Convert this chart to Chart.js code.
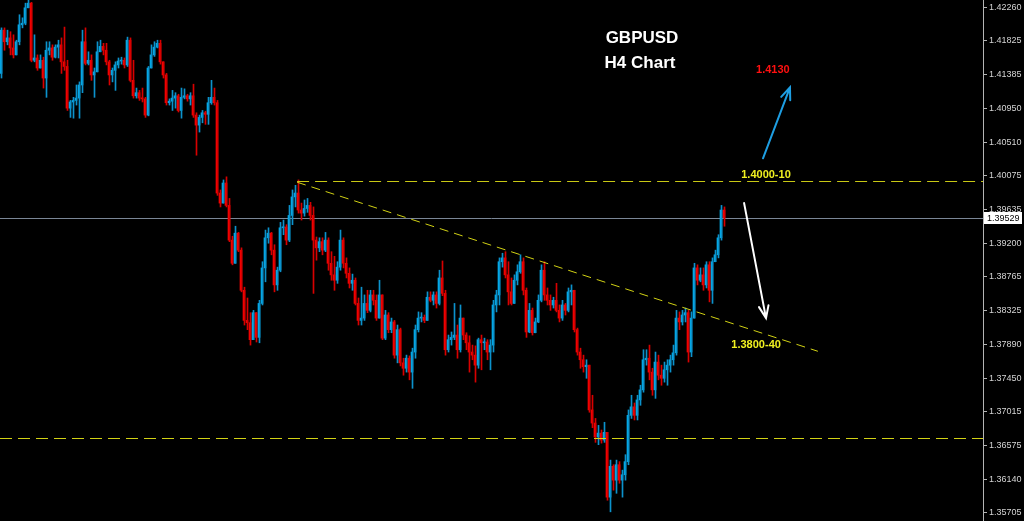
<!DOCTYPE html>
<html>
<head>
<meta charset="utf-8">
<title>GBPUSD H4 Chart</title>
<script src="https://cdn.jsdelivr.net/npm/chart.js@4.4.1/dist/chart.umd.min.js"></script>
<style>
  html, body { margin: 0; padding: 0; background: #000; }
  #wrap { position: relative; width: 1024px; height: 521px; }
</style>
</head>
<body>
<div id="wrap"><canvas id="chart"></canvas></div>
<script>
// GBPUSD H4 candles (open = previous close)
const firstOpen = 1.4140;

const closes = [
  1.4196, 1.4181, 1.4186, 1.4173, 1.4164, 1.4181, 1.4203, 1.4205, 1.4225, 1.4231,
  1.4157, 1.4160, 1.4147, 1.4157, 1.4134, 1.4170, 1.4173, 1.4161, 1.4174, 1.4177,
  1.4155, 1.4149, 1.4095, 1.4103, 1.4105, 1.4108, 1.4125, 1.4181, 1.4153, 1.4157,
  1.4138, 1.4142, 1.4168, 1.4175, 1.4170, 1.4155, 1.4138, 1.4144, 1.4151, 1.4156,
  1.4157, 1.4151, 1.4183, 1.4131, 1.4111, 1.4115, 1.4108, 1.4107, 1.4086, 1.4147,
  1.4164, 1.4174, 1.4179, 1.4155, 1.4138, 1.4102, 1.4104, 1.4108, 1.4111, 1.4092,
  1.4109, 1.4111, 1.4107, 1.4111, 1.4086, 1.4073, 1.4083, 1.4089, 1.4087, 1.4102,
  1.4109, 1.4102, 1.3985, 1.3972, 1.3998, 1.3969, 1.3924, 1.3894, 1.3933, 1.3911,
  1.3859, 1.3820, 1.3817, 1.3795, 1.3830, 1.3798, 1.3842, 1.3888, 1.3927, 1.3933,
  1.3911, 1.3866, 1.3885, 1.3940, 1.3941, 1.3924, 1.3956, 1.3980, 1.3985, 1.3963,
  1.3959, 1.3965, 1.3969, 1.3956, 1.3924, 1.3914, 1.3922, 1.3911, 1.3924, 1.3894,
  1.3879, 1.3872, 1.3889, 1.3924, 1.3894, 1.3881, 1.3868, 1.3872, 1.3842, 1.3820,
  1.3823, 1.3842, 1.3833, 1.3853, 1.3846, 1.3823, 1.3853, 1.3797, 1.3827, 1.3808,
  1.3818, 1.3775, 1.3808, 1.3765, 1.3758, 1.3771, 1.3753, 1.3779, 1.3808, 1.3823,
  1.3824, 1.3820, 1.3850, 1.3846, 1.3853, 1.3842, 1.3875, 1.3855, 1.3782, 1.3795,
  1.3798, 1.3801, 1.3782, 1.3823, 1.3801, 1.3791, 1.3779, 1.3775, 1.3762, 1.3795,
  1.3791, 1.3792, 1.3779, 1.3788, 1.3840, 1.3853, 1.3896, 1.3901, 1.3879, 1.3857,
  1.3842, 1.3872, 1.3883, 1.3896, 1.3859, 1.3805, 1.3833, 1.3804, 1.3818, 1.3846,
  1.3885, 1.3853, 1.3846, 1.3840, 1.3846, 1.3833, 1.3823, 1.3840, 1.3833, 1.3857,
  1.3859, 1.3808, 1.3779, 1.3769, 1.3760, 1.3762, 1.3704, 1.3687, 1.3669, 1.3674,
  1.3665, 1.3675, 1.3591, 1.3631, 1.3613, 1.3633, 1.3613, 1.3620, 1.3637, 1.3697,
  1.3708, 1.3697, 1.3717, 1.3730, 1.3769, 1.3771, 1.3753, 1.3730, 1.3766, 1.3749,
  1.3745, 1.3756, 1.3762, 1.3769, 1.3778, 1.3823, 1.3818, 1.3827, 1.3830, 1.3779,
  1.3823, 1.3888, 1.3872, 1.3879, 1.3866, 1.3892, 1.3859, 1.3896, 1.3905, 1.3927,
  1.3963, 1.39529
];

const highs = [
  1.4199, 1.4199, 1.4196, 1.4194, 1.4190, 1.4183, 1.4216, 1.4212, 1.4231, 1.4235,
  1.4232, 1.4190, 1.4164, 1.4164, 1.4161, 1.4181, 1.4181, 1.4177, 1.4177, 1.4183,
  1.4186, 1.4200, 1.4157, 1.4105, 1.4109, 1.4125, 1.4129, 1.4196, 1.4199, 1.4168,
  1.4164, 1.4147, 1.4181, 1.4183, 1.4179, 1.4179, 1.4157, 1.4147, 1.4155, 1.4160,
  1.4161, 1.4160, 1.4187, 1.4186, 1.4157, 1.4121, 1.4118, 1.4121, 1.4109, 1.4149,
  1.4177, 1.4181, 1.4183, 1.4183, 1.4155, 1.4140, 1.4107, 1.4118, 1.4115, 1.4113,
  1.4121, 1.4120, 1.4113, 1.4115, 1.4126, 1.4089, 1.4086, 1.4092, 1.4091, 1.4109,
  1.4131, 1.4121, 1.4105, 1.3989, 1.4002, 1.4006, 1.3978, 1.3929, 1.3942, 1.3934,
  1.3914, 1.3863, 1.3849, 1.3830, 1.3833, 1.3827, 1.3846, 1.3896, 1.3937, 1.3940,
  1.3934, 1.3918, 1.3889, 1.3947, 1.3950, 1.3944, 1.3969, 1.3989, 1.3995, 1.4002,
  1.3972, 1.3976, 1.3978, 1.3973, 1.3967, 1.3928, 1.3927, 1.3927, 1.3934, 1.3927,
  1.3909, 1.3903, 1.3896, 1.3937, 1.3927, 1.3901, 1.3888, 1.3880, 1.3875, 1.3849,
  1.3863, 1.3853, 1.3859, 1.3859, 1.3859, 1.3853, 1.3872, 1.3846, 1.3833, 1.3830,
  1.3823, 1.3820, 1.3814, 1.3810, 1.3771, 1.3775, 1.3774, 1.3784, 1.3814, 1.3831,
  1.3830, 1.3827, 1.3857, 1.3857, 1.3857, 1.3857, 1.3885, 1.3897, 1.3859, 1.3801,
  1.3805, 1.3842, 1.3814, 1.3840, 1.3823, 1.3804, 1.3800, 1.3788, 1.3787, 1.3797,
  1.3801, 1.3797, 1.3795, 1.3795, 1.3846, 1.3859, 1.3901, 1.3907, 1.3909, 1.3896,
  1.3875, 1.3879, 1.3892, 1.3905, 1.3901, 1.3862, 1.3842, 1.3836, 1.3823, 1.3853,
  1.3892, 1.3896, 1.3862, 1.3853, 1.3850, 1.3868, 1.3840, 1.3846, 1.3842, 1.3862,
  1.3866, 1.3859, 1.3810, 1.3784, 1.3775, 1.3769, 1.3758, 1.3723, 1.3693, 1.3684,
  1.3678, 1.3688, 1.3674, 1.3639, 1.3633, 1.3639, 1.3637, 1.3626, 1.3646, 1.3704,
  1.3723, 1.3713, 1.3723, 1.3736, 1.3782, 1.3782, 1.3788, 1.3758, 1.3779, 1.3775,
  1.3762, 1.3766, 1.3769, 1.3775, 1.3788, 1.3833, 1.3831, 1.3833, 1.3836, 1.3833,
  1.3831, 1.3894, 1.3892, 1.3888, 1.3888, 1.3896, 1.3896, 1.3901, 1.3911, 1.3931,
  1.3969, 1.3967
];

const lows = [
  1.4134, 1.4170, 1.4177, 1.4164, 1.4160, 1.4164, 1.4177, 1.4199, 1.4203, 1.4225,
  1.4155, 1.4155, 1.4144, 1.4149, 1.4121, 1.4109, 1.4164, 1.4157, 1.4160, 1.4160,
  1.4140, 1.4144, 1.4092, 1.4083, 1.4082, 1.4099, 1.4082, 1.4115, 1.4151, 1.4151,
  1.4131, 1.4109, 1.4142, 1.4168, 1.4164, 1.4151, 1.4125, 1.4129, 1.4118, 1.4147,
  1.4152, 1.4147, 1.4149, 1.4129, 1.4108, 1.4108, 1.4105, 1.4103, 1.4083, 1.4085,
  1.4147, 1.4162, 1.4173, 1.4152, 1.4134, 1.4099, 1.4099, 1.4092, 1.4095, 1.4090,
  1.4082, 1.4107, 1.4104, 1.4099, 1.4083, 1.4034, 1.4064, 1.4076, 1.4074, 1.4074,
  1.4100, 1.4099, 1.3982, 1.3967, 1.3972, 1.3967, 1.3922, 1.3892, 1.3896, 1.3909,
  1.3857, 1.3814, 1.3808, 1.3788, 1.3795, 1.3792, 1.3791, 1.3840, 1.3870, 1.3920,
  1.3905, 1.3857, 1.3859, 1.3883, 1.3931, 1.3918, 1.3922, 1.3944, 1.3967, 1.3959,
  1.3950, 1.3955, 1.3960, 1.3950, 1.3855, 1.3898, 1.3909, 1.3905, 1.3909, 1.3885,
  1.3872, 1.3859, 1.3868, 1.3885, 1.3888, 1.3875, 1.3862, 1.3859, 1.3840, 1.3814,
  1.3814, 1.3820, 1.3830, 1.3831, 1.3840, 1.3820, 1.3823, 1.3795, 1.3795, 1.3804,
  1.3804, 1.3771, 1.3765, 1.3761, 1.3749, 1.3753, 1.3743, 1.3732, 1.3771, 1.3805,
  1.3818, 1.3817, 1.3820, 1.3844, 1.3840, 1.3836, 1.3840, 1.3852, 1.3775, 1.3779,
  1.3788, 1.3795, 1.3771, 1.3779, 1.3795, 1.3782, 1.3753, 1.3769, 1.3740, 1.3758,
  1.3756, 1.3782, 1.3769, 1.3756, 1.3779, 1.3831, 1.3840, 1.3889, 1.3875, 1.3840,
  1.3840, 1.3844, 1.3866, 1.3881, 1.3853, 1.3798, 1.3804, 1.3801, 1.3804, 1.3817,
  1.3844, 1.3846, 1.3840, 1.3833, 1.3836, 1.3831, 1.3818, 1.3820, 1.3827, 1.3831,
  1.3840, 1.3805, 1.3775, 1.3758, 1.3753, 1.3745, 1.3701, 1.3681, 1.3662, 1.3659,
  1.3661, 1.3662, 1.3587, 1.3572, 1.3600, 1.3596, 1.3609, 1.3591, 1.3613, 1.3633,
  1.3693, 1.3691, 1.3691, 1.3710, 1.3727, 1.3762, 1.3743, 1.3723, 1.3719, 1.3743,
  1.3736, 1.3740, 1.3736, 1.3753, 1.3762, 1.3775, 1.3808, 1.3814, 1.3818, 1.3766,
  1.3773, 1.3823, 1.3866, 1.3870, 1.3859, 1.3862, 1.3844, 1.3842, 1.3896, 1.3901,
  1.3924, 1.3942
];

const yTicks = [
  1.42260, 1.41825, 1.41385, 1.40950, 1.40510, 1.40075, 1.39635, 1.39200,
  1.38765, 1.38325, 1.37890, 1.37450, 1.37015, 1.36575, 1.36140, 1.35705
];
const yMin = 1.35601;
const yMax = 1.42351;
const lastPrice = 1.39529;

// drawn objects (bar index, price)
const resLevel = 1.4000;
const resStart = 98.7;
const supLevel = 1.3668;
const trendFrom = { x: 98.7, y: 1.3999 };
const trendTo   = { x: 272.3, y: 1.3780 };
const upArrow   = { from: { x: 254, y: 1.4030 }, to: { x: 263, y: 1.4122 } };
const downArrow = { from: { x: 247.7, y: 1.3972 }, to: { x: 255, y: 1.3823 } };
const notes = [
  { text: '1.4130',    x: 257.3, y: 1.4144, color: '#ff1010' },
  { text: '1.4000-10', x: 255,   y: 1.4009, color: '#f0f020' },
  { text: '1.3800-40', x: 251.7, y: 1.3788, color: '#f0f020' }
];

const UP = '#00b2f2', DOWN = '#ff0000';
const UP_WICK = '#0c92cc', DOWN_WICK = '#d80000';
const wickShift = 1 / 6;   // puts the 1px wick on a whole pixel column

const opens = [firstOpen, ...closes.slice(0, -1)];
const isUp = i => closes[i] >= opens[i];

const bodies = closes.map((c, i) => ({ x: i, y: [opens[i], c] }));
const wicks = closes.map((c, i) => ({
  x: i + wickShift,
  y: [Math.min(lows[i], opens[i], c), Math.max(highs[i], opens[i], c)]
}));

const drawArrow = (ctx, x1, y1, x2, y2, color) => {
  const a = Math.atan2(y2 - y1, x2 - x1);
  const head = 13, spread = 0.38;
  ctx.save();
  ctx.strokeStyle = color;
  ctx.lineWidth = 2;
  ctx.lineCap = 'round';
  ctx.beginPath();
  ctx.moveTo(x1, y1);
  ctx.lineTo(x2, y2);
  ctx.moveTo(x2 - head * Math.cos(a - spread), y2 - head * Math.sin(a - spread));
  ctx.lineTo(x2, y2);
  ctx.lineTo(x2 - head * Math.cos(a + spread), y2 - head * Math.sin(a + spread));
  ctx.stroke();
  ctx.restore();
};

const overlay = {
  id: 'overlay',
  beforeDatasetsDraw(chart) {
    const { ctx, chartArea: area, scales: { y } } = chart;
    const py = Math.round(y.getPixelForValue(lastPrice)) + 0.5;
    ctx.save();
    ctx.strokeStyle = '#7a8696';
    ctx.lineWidth = 1;
    ctx.beginPath();
    ctx.moveTo(area.left, py);
    ctx.lineTo(area.right, py);
    ctx.stroke();
    ctx.restore();
  },
  afterDatasetsDraw(chart) {
    const { ctx, chartArea: area, scales: { x, y } } = chart;
    ctx.save();
    ctx.lineWidth = 1;

    // resistance 1.4000
    const ry = Math.round(y.getPixelForValue(resLevel)) + 0.5;
    ctx.setLineDash([12, 6]);
    ctx.strokeStyle = '#c8c814';
    ctx.beginPath();
    ctx.moveTo(x.getPixelForValue(resStart), ry);
    ctx.lineTo(area.right, ry);
    ctx.stroke();

    // support low
    const sy = Math.round(y.getPixelForValue(supLevel)) + 0.5;
    ctx.strokeStyle = '#d2d214';
    ctx.beginPath();
    ctx.moveTo(area.left, sy);
    ctx.lineTo(area.right, sy);
    ctx.stroke();

    // falling trendline
    ctx.setLineDash([9, 6]);
    ctx.beginPath();
    ctx.moveTo(x.getPixelForValue(trendFrom.x), y.getPixelForValue(trendFrom.y));
    ctx.lineTo(x.getPixelForValue(trendTo.x), y.getPixelForValue(trendTo.y));
    ctx.stroke();
    ctx.setLineDash([]);
    ctx.restore();

    drawArrow(ctx,
      x.getPixelForValue(upArrow.from.x), y.getPixelForValue(upArrow.from.y),
      x.getPixelForValue(upArrow.to.x), y.getPixelForValue(upArrow.to.y), '#1e9ee2');
    drawArrow(ctx,
      x.getPixelForValue(downArrow.from.x), y.getPixelForValue(downArrow.from.y),
      x.getPixelForValue(downArrow.to.x), y.getPixelForValue(downArrow.to.y), '#ffffff');

    ctx.save();
    ctx.textAlign = 'center';
    ctx.textBaseline = 'middle';
    ctx.font = 'bold 11px "Liberation Sans", Arial, sans-serif';
    notes.forEach(n => {
      ctx.fillStyle = n.color;
      ctx.fillText(n.text, x.getPixelForValue(n.x), y.getPixelForValue(n.y));
    });

    ctx.fillStyle = '#ffffff';
    ctx.font = 'bold 17px "Liberation Sans", Arial, sans-serif';
    ctx.fillText('GBPUSD', 642, 38);
    ctx.fillText('H4 Chart', 640, 63);
    ctx.restore();
  },
  afterDraw(chart) {
    const { ctx, chartArea: area, scales: { y } } = chart;
    const py = Math.round(y.getPixelForValue(lastPrice));
    ctx.save();
    ctx.fillStyle = '#ffffff';
    ctx.fillRect(area.right + 1, py - 6, 38, 12);
    ctx.fillStyle = '#000000';
    ctx.font = '9px "Liberation Sans", Arial, sans-serif';
    ctx.textBaseline = 'middle';
    ctx.textAlign = 'left';
    ctx.fillText(lastPrice.toFixed(5), area.right + 4, py + 0.5);
    ctx.restore();
  }
};

new Chart(document.getElementById('chart'), {
  type: 'bar',
  data: {
    datasets: [
      {
        label: 'wick',
        data: wicks,
        grouped: false,
        barThickness: 1,
        borderWidth: 0,
        backgroundColor: ctx => isUp(ctx.dataIndex) ? UP_WICK : DOWN_WICK
      },
      {
        label: 'body',
        data: bodies,
        grouped: false,
        barThickness: 2,
        minBarLength: 1,
        borderWidth: 0,
        backgroundColor: ctx => isUp(ctx.dataIndex) ? UP : DOWN
      }
    ]
  },
  options: {
    responsive: true,
    maintainAspectRatio: false,
    animation: false,
    devicePixelRatio: 1,
    layout: { padding: 0 },
    plugins: {
      legend: { display: false },
      tooltip: { enabled: false }
    },
    scales: {
      x: {
        type: 'linear',
        display: false,
        min: -1 / 3,
        max: 983 / 3 - 1 / 3,
        offset: false
      },
      y: {
        position: 'right',
        min: yMin,
        max: yMax,
        afterBuildTicks: s => { s.ticks = yTicks.map(v => ({ value: v })); },
        afterFit: s => { s.width = 41; s.paddingTop = 0; s.paddingBottom = 0; },
        ticks: {
          autoSkip: false,
          color: '#d4d4d4',
          padding: 2,
          font: { family: '"Liberation Sans", Arial, sans-serif', size: 9 },
          callback: v => Number(v).toFixed(5)
        },
        grid: { drawOnChartArea: false, tickLength: 4, tickColor: '#b4b4b4' },
        border: { color: '#b4b4b4' }
      }
    }
  },
  plugins: [overlay]
});
</script>
</body>
</html>
